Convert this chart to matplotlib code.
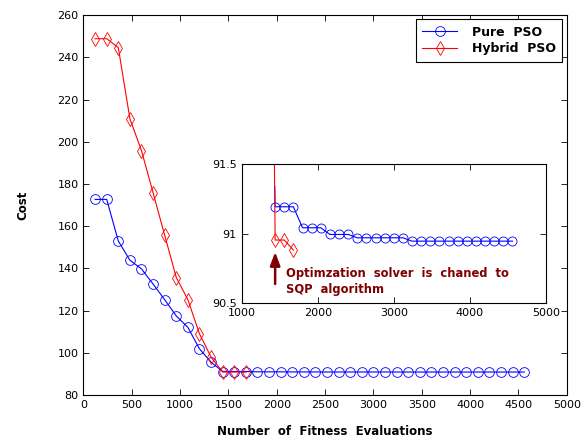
import matplotlib.pyplot as plt

# evaluations (swarm of 120 particles per iteration)
evals_pure = [120 * k for k in range(1, 39)]
cost_pure = [172.7, 172.7, 153.0, 143.9, 139.8, 132.6, 125.2, 117.5, 112.1, 101.9,
             95.6, 91.195, 91.195, 91.195, 91.044, 91.044, 91.044, 90.996, 90.996, 90.996,
             90.972, 90.972, 90.972, 90.972, 90.972, 90.972,
             90.948, 90.948, 90.948, 90.948, 90.948, 90.948, 90.948, 90.948, 90.948,
             90.948, 90.948, 90.948]

evals_hybrid = [120 * k for k in range(1, 15)]
cost_hybrid = [248.8, 248.8, 244.6, 210.9, 195.8, 175.8, 155.7, 135.7, 125.2, 109.0,
               98.0, 90.956, 90.956, 90.884]

# value of the pure PSO line where it enters the zoomed view
pure_entry = (1435, 91.34)

plt.rcParams['font.family'] = ['DejaVu Sans']

fig = plt.figure(figsize=(5.88, 4.43), dpi=100)
ax = fig.add_axes([0.142, 0.108, 0.822, 0.858])

ax.plot(evals_pure, cost_pure, color='blue', marker='o', markersize=7,
        markerfacecolor='none', markeredgewidth=0.6, linewidth=0.8, label='Pure  PSO')
ax.plot(evals_hybrid, cost_hybrid, color='red', marker='d', markersize=7.5,
        markerfacecolor='none', markeredgewidth=0.6, linewidth=0.8, label='Hybrid  PSO')

ax.set_xlim(0, 5000)
ax.set_ylim(80, 260)
ax.set_xticks(range(0, 5001, 500))
ax.set_yticks(range(80, 261, 20))
ax.tick_params(direction='in', top=True, right=True, labelsize=8, length=4, width=0.6)
for s in ax.spines.values():
    s.set_linewidth(0.8)
ax.set_xlabel('Number  of  Fitness  Evaluations', fontsize=8.5, fontweight='bold', labelpad=11)
ax.set_ylabel('Cost', fontsize=8.5, fontweight='bold', labelpad=20)

leg = ax.legend(loc='upper right', prop={'weight': 'bold', 'size': 9},
                fancybox=False, edgecolor='black', framealpha=1, borderpad=0.5,
                handlelength=2.8, handletextpad=1.2, labelspacing=0.3, borderaxespad=0.35)
leg.get_frame().set_linewidth(0.8)

# zoomed inset
ins = fig.add_axes([0.411, 0.315, 0.5175, 0.314])
ins.plot([pure_entry[0]] + evals_pure[11:], [pure_entry[1]] + cost_pure[11:],
         color='blue', marker='o', markersize=6.5, markerfacecolor='none',
         markeredgewidth=0.6, linewidth=0.8, markevery=list(range(1, 28)))
ins.plot(evals_hybrid[10:], cost_hybrid[10:], color='red', marker='d', markersize=7,
         markerfacecolor='none', markeredgewidth=0.6, linewidth=0.8,
         markevery=[1, 2, 3])
ins.set_xlim(1000, 5000)
ins.set_ylim(90.5, 91.5)
ins.set_xticks(range(1000, 5001, 1000))
ins.set_yticks([90.5, 91, 91.5])
ins.set_yticklabels(['90.5', '91', '91.5'])
ins.tick_params(direction='in', top=True, right=True, labelsize=8, length=4, width=0.6)
for s in ins.spines.values():
    s.set_linewidth(0.8)

ins.annotate('', xy=(1440, 90.89), xytext=(1440, 90.62),
             arrowprops=dict(arrowstyle='-|>,head_width=0.3,head_length=0.8',
                             color='#7f0000', linewidth=1.8))
ins.text(1580, 90.765, 'Optimzation  solver  is  chaned  to\nSQP  algorithm',
         color='#7f0000', fontsize=8.3, fontweight='bold', va='top', ha='left',
         linespacing=1.3)

plt.savefig('out.png', dpi=100)
